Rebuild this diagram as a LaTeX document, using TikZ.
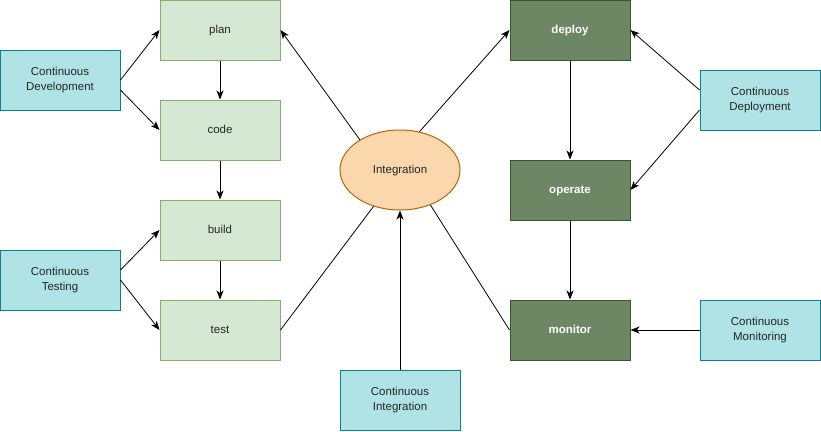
\documentclass[tikz,border=0pt]{standalone}
\usepackage{fontspec}
\setmainfont{Liberation Sans}
\usetikzlibrary{positioning}
\usetikzlibrary{arrows.meta}
\usetikzlibrary{shapes.geometric}

\definecolor{lightfill}{HTML}{D5E8D4}
\definecolor{lightline}{HTML}{82B366}
\definecolor{darkfill}{HTML}{6D8764}
\definecolor{darkline}{HTML}{3A5431}
\definecolor{tealfill}{HTML}{B0E3E6}
\definecolor{tealline}{HTML}{0E8088}
\definecolor{orangefill}{HTML}{FAD7AC}
\definecolor{orangeline}{HTML}{B46504}

\begin{document}
\begin{tikzpicture}[x=1pt, y=-1pt, >={Stealth[length=9pt,width=7pt,inset=2.5pt]},
  font=\fontsize{11.5}{15}\selectfont, line width=1pt,
  box/.style={draw, minimum width=120pt, minimum height=60pt, inner sep=0pt, align=center},
  oneline/.style={text height=9.5pt, text depth=2.5pt},
  stage/.style={box, oneline, fill=lightfill, draw=lightline, text=black!85},
  ops/.style={box, oneline, fill=darkfill, draw=darkline, text=white, font=\fontsize{11.5}{15}\selectfont\bfseries},
  practice/.style={box, fill=tealfill, draw=tealline, text=black!85},
  link/.style={line width=0.8pt, black}]

\useasboundingbox (0,0) rectangle (821,431);

% development and testing stages
\node [stage] (plan) at (220,30) {plan};
\node [stage] (code) at (220,130) {code};
\node [stage] (build) at (220,230) {build};
\node [stage] (test) at (220,330) {test};
\node [practice] (cdev) at (60,80) {Continuous\\Development};
\node [practice] (ctest) at (60,280) {Continuous\\Testing};

% integration in the middle
\node [ellipse, oneline, draw=orangeline, fill=orangefill, minimum width=120pt, minimum height=80pt, inner sep=0pt, text=black!85] (integ) at (400,170) {Integration};
\node [practice] (cint) at (400,400) {Continuous\\Integration};

% deployment and monitoring stages
\node [ops] (deploy) at (570,30) {deploy};
\node [ops] (operate) at (570,190) {operate};
\node [ops] (monitor) at (570,330) {monitor};
\node [practice] (cdep) at (760,100) {Continuous\\Deployment};
\node [practice] (cmon) at (760,330) {Continuous\\Monitoring};

% arrows on the left
\draw [link, ->] (cdev.east) -- (plan.west);
\draw [link, ->] ([yshift=-10pt]cdev.east) -- (code.west);
\draw [link, ->] ([yshift=10pt]ctest.east) -- (build.west);
\draw [link, ->] (ctest.east) -- (test.west);
\draw [link, ->] (plan) -- (code);
\draw [link, ->] (code) -- (build);
\draw [link, ->] (build) -- (test);

% lines round the integration
\draw [link, ->] (integ.143) -- (plan.east);
\draw [link, ->] (integ.63) -- (deploy.west);
\draw [link] (test.east) -- (integ.234);
\draw [link] (monitor.west) -- (integ.311);
\draw [link, ->] (cint) -- (integ);

% arrows on the right
\draw [link, ->] (deploy) -- (operate);
\draw [link, ->] (operate) -- (monitor);
\draw [link, ->] ([yshift=10pt]cdep.west) -- (deploy.east);
\draw [link, ->] ([yshift=-10pt]cdep.west) -- (operate.east);
\draw [link, ->] (cmon) -- (monitor);

\end{tikzpicture}
\end{document}
